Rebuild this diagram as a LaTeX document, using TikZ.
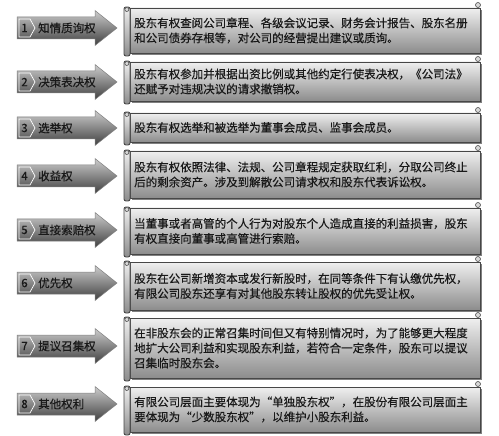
\documentclass[tikz,border=0pt]{standalone}
\usepackage{fontspec}
\setmainfont{Noto Sans CJK SC}[FakeBold=0.5]
\tikzset{
  scroll/.style={draw=black!72,line width=0.9pt,top color=black!6,bottom color=black!45},
  curl/.style={draw=black!70,line width=0.6pt,fill=black!15},
  rarrow/.style={draw=black!50,line width=0.5pt,top color=black!20,bottom color=black!75},
  numtab/.style={draw=white,line width=0.7pt},
  rtext/.style={anchor=west,align=left,inner sep=0pt,text=black!90,
    font=\fontsize{11.5}{15}\selectfont}
}
% #1 arrow middle, #2 box top, #3 box bottom, #4 number, #5 label, #6 text
\newcommand{\rightrow}[6]{%
  % scroll box
  \fill[black!50] (131.5,#2+2) rectangle (481.5,#3+2);
  \draw[scroll] (130,#2) rectangle (480,#3);
  \draw[scroll,rounded corners=2pt] (124,#2-1) rectangle (130,#3+3);
  \draw[curl] (126.8,#2+1.5) circle (2);
  \draw[curl] (478,#2-3) circle (2.5);
  \node[rtext] (t#4) at (134,{(#2+#3)/2}) {#6};
  % arrow with number
  \draw[rarrow] (17,#1-11) -- (95,#1-11) -- (95,#1-17.5) -- (117,#1)
    -- (95,#1+17.5) -- (95,#1+11) -- (17,#1+11) -- cycle;
  \draw[numtab] (19,#1-9) -- (30,#1-9) -- (35,#1) -- (30,#1+9) -- (19,#1+9) -- cycle;
  \node[rtext,anchor=center] (n#4) at (24.5,#1) {#4};
  \node[rtext] (l#4) at (38,#1) {#5};
}
\begin{document}
\begin{tikzpicture}[x=1pt,y=-1pt]
  \useasboundingbox (0,0) rectangle (499,436);
  \rightrow{28}{8}{53}{1}{知情质询权}{股东有权查阅公司章程、各级会议记录、财务会计报告、股东名册\\和公司债券存根等，对公司的经营提出建议或质询。}
  \rightrow{82}{62}{101}{2}{决策表决权}{股东有权参加并根据出资比例或其他约定行使表决权，《公司法》\\还赋予对违规决议的请求撤销权。}
  \rightrow{128}{113}{142}{3}{选举权}{股东有权选举和被选举为董事会成员、监事会成员。}
  \rightrow{176}{151}{198}{4}{收益权}{股东有权依照法律、法规、公司章程规定获取红利，分取公司终止\\后的剩余资产。涉及到解散公司请求权和股东代表诉讼权。}
  \rightrow{230}{208}{254}{5}{直接索赔权}{当董事或者高管的个人行为对股东个人造成直接的利益损害，股东\\有权直接向董事或高管进行索赔。}
  \rightrow{283}{262}{310}{6}{优先权}{股东在公司新增资本或发行新股时，在同等条件下有认缴优先权，\\有限公司股东还享有对其他股东转让股权的优先受让权。}
  \rightrow{346}{318}{378}{7}{提议召集权}{在非股东会的正常召集时间但又有特别情况时，为了能够更大程度\\地扩大公司利益和实现股东利益，若符合一定条件，股东可以提议\\召集临时股东会。}
  \rightrow{404}{387}{432}{8}{其他权利}{有限公司层面主要体现为“单独股东权”，在股份有限公司层面主\\要体现为“少数股东权”，以维护小股东利益。}
\end{tikzpicture}
\end{document}
